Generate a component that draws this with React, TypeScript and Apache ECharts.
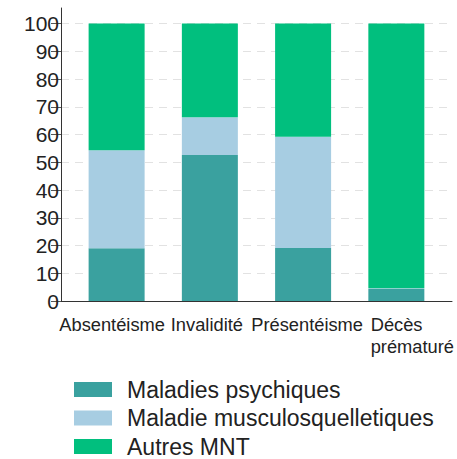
import React, { useEffect, useRef } from "react";
import * as echarts from "echarts";

const categories = ["Absentéisme", "Invalidité", "Présentéisme", "Décès\nprématuré"];
const seriesNames = ["Maladies psychiques", "Maladie musculosquelletiques", "Autres MNT"];
const psychiques = [19.0, 52.6, 19.1, 4.3];
const musculo = [35.3, 13.6, 40.1, 0.3];
const autres = [45.7, 33.8, 40.8, 95.4];
const colors = ["#3aa19f", "#a7cde2", "#01bf7e"];
const yTicks = { min: 0, max: 100, interval: 10 };

const FONT = "'Liberation Sans', Arial, sans-serif";
const labelStyle = { fontSize: 18.3, color: "#222", fontFamily: FONT, lineHeight: 22 };

export default function App() {
  const ref = useRef<HTMLDivElement>(null);
  useEffect(() => {
    const chart = echarts.init(ref.current!, null, { renderer: "svg" });
    const top = 23.5;
    const bottom = 158;
    chart.setOption({
      animation: false,
      textStyle: { fontFamily: FONT },
      grid: [
        { left: 61, right: 5, top: 8, bottom },
        { left: 61, right: 5, top, bottom },
        { left: 70, right: 14, top, bottom },
      ],
      xAxis: [
        {
          gridIndex: 0, type: "value", min: 0, max: 1,
          axisLine: { show: true, onZero: false, lineStyle: { color: "#333", width: 1 } },
          axisTick: { show: false }, axisLabel: { show: false }, splitLine: { show: false },
        },
        { gridIndex: 1, type: "value", min: 0, max: 1, show: false },
        {
          gridIndex: 2, type: "category", data: categories,
          axisLine: { show: false }, axisTick: { show: false },
          axisLabel: {
            interval: 0, margin: 12, ...labelStyle,
            formatter: (v: string, i: number) => {
              const parts = v.split("\n");
              if (parts.length > 1) return parts.map((p) => "{d|" + p + "}").join("\n");
              return "{c" + i + "|" + v + "}";
            },
            rich: {
              c0: { ...labelStyle, padding: [0, 9, 0, 0] },
              c1: { ...labelStyle, padding: [0, 6, 0, 0] },
              c2: { ...labelStyle, padding: [0, 0, 0, 8] },
              d: { ...labelStyle, align: "left", padding: [0, 0, 0, 32] },
            },
          },
        },
      ],
      yAxis: [
        {
          gridIndex: 0, type: "value", min: 0, max: 1,
          axisLine: { show: true, lineStyle: { color: "#333", width: 1 } },
          axisTick: { show: false }, axisLabel: { show: false }, splitLine: { show: false },
        },
        {
          gridIndex: 1, type: "value", min: yTicks.min, max: yTicks.max, interval: yTicks.interval,
          axisLine: { show: false },
          axisTick: { show: true, length: 10, lineStyle: { color: "#555" } },
          axisLabel: { margin: 2, fontSize: 21, color: "#222", fontFamily: FONT },
          splitLine: { show: true, lineStyle: { color: "#e2e2e2", type: [8, 6], width: 1 } },
        },
        { gridIndex: 2, type: "value", min: yTicks.min, max: yTicks.max, show: false },
      ],
      legend: {
        orient: "vertical", left: 74, top: 378, height: 100, padding: 0, icon: "rect",
        itemWidth: 38, itemHeight: 15, itemGap: 5.5,
        textStyle: { fontSize: 23, color: "#222", fontFamily: FONT, lineHeight: 23, padding: [0, 0, 0, 10] },
        data: seriesNames,
      },
      series: [psychiques, musculo, autres].map((d, i) => ({
        name: seriesNames[i], type: "bar", stack: "all", xAxisIndex: 2, yAxisIndex: 2,
        data: d, barWidth: 56, itemStyle: { color: colors[i] },
      })),
    });
    return () => chart.dispose();
  }, []);
  return <div ref={ref} style={{ width: 457, height: 459, position: "absolute", left: 0, top: 0 }} />;
}
